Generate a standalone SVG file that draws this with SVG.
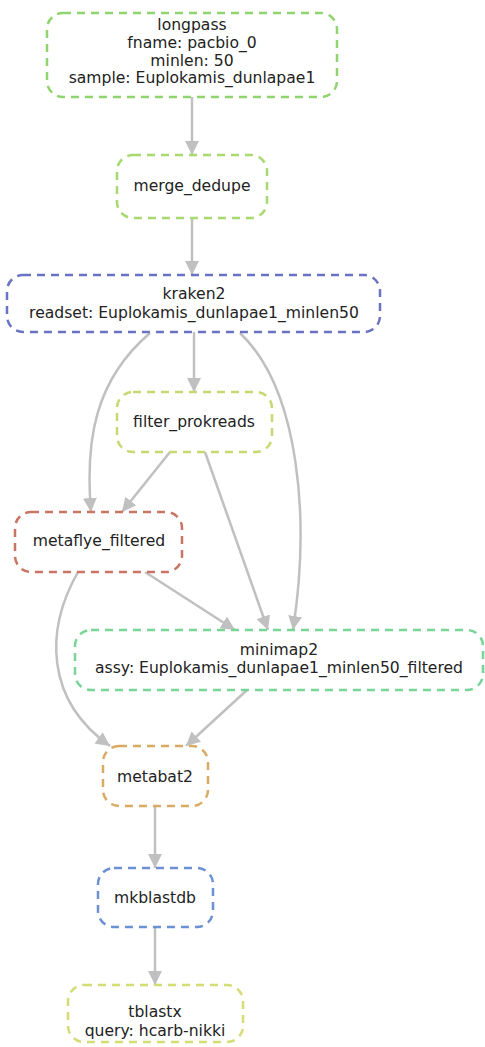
<svg xmlns="http://www.w3.org/2000/svg" width="485" height="1047" viewBox="0 0 485 1047">
<defs>
<marker id="arr" viewBox="0 0 10 10" refX="10" refY="5" markerWidth="5.6" markerHeight="5.6" orient="auto" markerUnits="strokeWidth">
<path d="M0,0 L10,5 L0,10 z" fill="#c0c0c0"/>
</marker>
<style>
.n{fill:#fff;stroke-width:2.5;stroke-dasharray:8 6}
.t{font-family:"DejaVu Sans",Verdana,sans-serif;font-size:15.6px;fill:#222;text-anchor:middle}
.e{fill:none;stroke:#c0c0c0;stroke-width:2.5;marker-end:url(#arr)}
</style>
</defs>
<rect width="485" height="1047" fill="#fff"/>
<g id="connectors">
<path class="e" d="M192,97 L192,155"/>
<path class="e" d="M192,218 L192,275"/>
<path class="e" d="M194,332 L194,392"/>
<path class="e" d="M150,333 C95,380 85,440 91,512"/>
<path class="e" d="M240,333 C300,390 310,520 293,630"/>
<path class="e" d="M170,452 L122,512"/>
<path class="e" d="M205,452 L268,630"/>
<path class="e" d="M145,572 L235,630"/>
<path class="e" d="M78,572 C45,630 45,700 110,746"/>
<path class="e" d="M247,690 L186,746"/>
<path class="e" d="M155,806 L155,868"/>
<path class="e" d="M155,927 L155,985"/>
</g>
<g id="longpass">
<rect class="n" x="47" y="13" width="290" height="84" rx="16" stroke="#8fd46e"/>
<text class="t" x="192" y="30">longpass</text>
<text class="t" x="192" y="48">fname: pacbio_0</text>
<text class="t" x="192" y="65.5">minlen: 50</text>
<text class="t" x="192" y="83">sample: Euplokamis_dunlapae1</text>
</g>
<g id="merge_dedupe">
<rect class="n" x="117" y="155" width="150" height="63" rx="16" stroke="#a8d870"/>
<text class="t" x="192" y="191">merge_dedupe</text>
</g>
<g id="kraken2">
<rect class="n" x="7" y="275" width="373" height="57" rx="16" stroke="#6a72c4"/>
<text class="t" x="194" y="299">kraken2</text>
<text class="t" x="194" y="318">readset: Euplokamis_dunlapae1_minlen50</text>
</g>
<g id="filter_prokreads">
<rect class="n" x="117" y="392" width="155" height="60" rx="16" stroke="#c8d870"/>
<text class="t" x="194" y="427">filter_prokreads</text>
</g>
<g id="metaflye_filtered">
<rect class="n" x="15" y="512" width="167" height="60" rx="16" stroke="#c87564"/>
<text class="t" x="99" y="546">metaflye_filtered</text>
</g>
<g id="minimap2">
<rect class="n" x="75" y="630" width="408" height="60" rx="16" stroke="#78d498"/>
<text class="t" x="279" y="655">minimap2</text>
<text class="t" x="279" y="673">assy: Euplokamis_dunlapae1_minlen50_filtered</text>
</g>
<g id="metabat2">
<rect class="n" x="103" y="746" width="105" height="60" rx="16" stroke="#d8aa64"/>
<text class="t" x="155" y="782">metabat2</text>
</g>
<g id="mkblastdb">
<rect class="n" x="98" y="868" width="115" height="59" rx="16" stroke="#6c90d4"/>
<text class="t" x="155" y="903">mkblastdb</text>
</g>
<g id="tblastx">
<rect class="n" x="68" y="985" width="175" height="57" rx="16" stroke="#d4dc74"/>
<text class="t" x="155" y="1017">tblastx</text>
<text class="t" x="155" y="1036">query: hcarb-nikki</text>
</g>
</svg>
